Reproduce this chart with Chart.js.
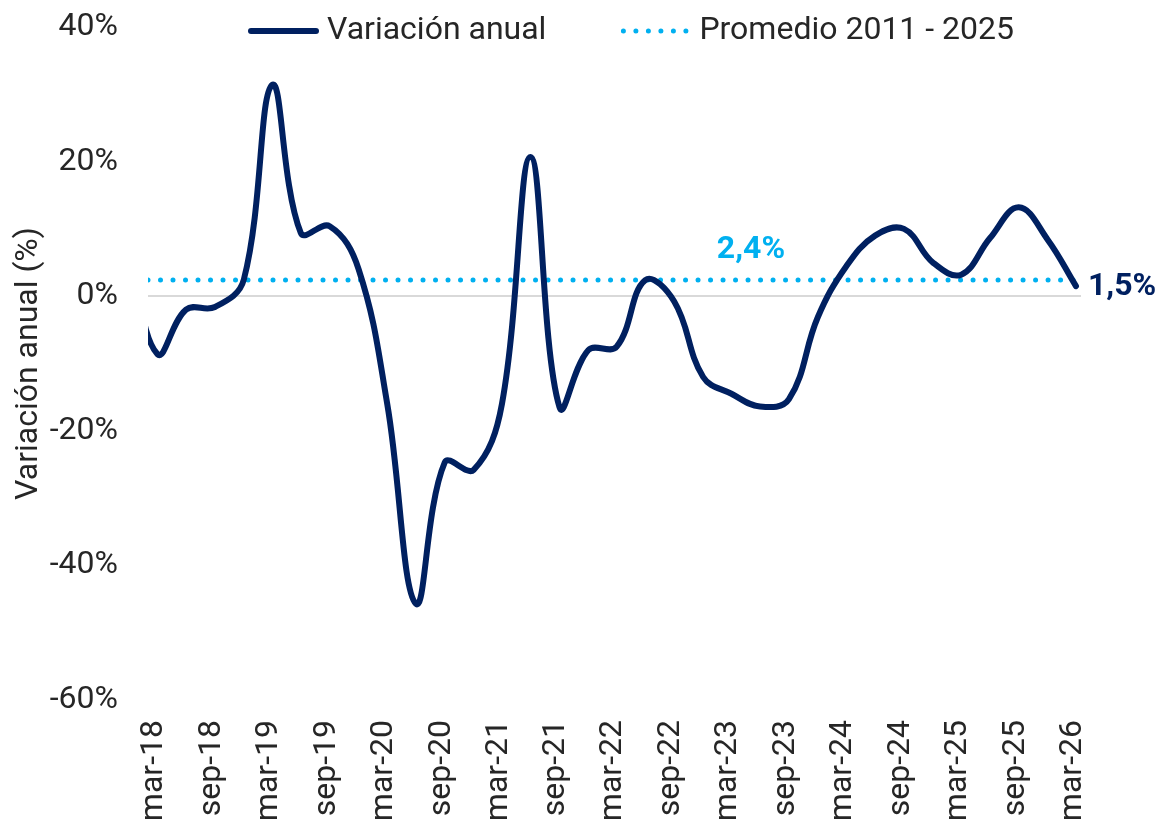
<!DOCTYPE html>
<html lang="es">
<head>
<meta charset="utf-8">
<title>Variación anual</title>
<script src="https://cdn.jsdelivr.net/npm/chart.js@4/dist/chart.umd.min.js"></script>
<style>
    html, body { margin: 0; padding: 0; background: #ffffff; }
    #wrap { width: 1158px; height: 820px; }
</style>
</head>
<body>
<div id="wrap"><canvas id="grafico" width="1158" height="820"></canvas></div>
<script>
// datos trimestrales (fin de trimestre); el primero queda fuera del eje
const fechas = [
    '2017-12-31', '2018-03-31', '2018-06-30', '2018-09-30', '2018-12-31',
    '2019-03-31', '2019-06-30', '2019-09-30', '2019-12-31',
    '2020-03-31', '2020-06-30', '2020-09-30', '2020-12-31',
    '2021-03-31', '2021-06-30', '2021-09-30', '2021-12-31',
    '2022-03-31', '2022-06-30', '2022-09-30', '2022-12-31',
    '2023-03-31', '2023-06-30', '2023-09-30', '2023-12-31',
    '2024-03-31', '2024-06-30', '2024-09-30', '2024-12-31',
    '2025-03-31', '2025-06-30', '2025-09-30', '2025-12-31',
    '2026-03-31'
];
const valores = [
    7.0, -8.6, -2.0, -1.6, 2.5,
    31.4, 9.4, 10.4, 4.0,
    -16.0, -45.7, -24.7, -25.8,
    -16.0, 20.7, -16.5, -8.0,
    -7.5, 2.4, -0.8, -12.0,
    -14.5, -16.4, -15.3, -3.1,
    4.5, 9.0, 10.0, 5.0,
    3.2, 8.6, 13.2, 8.4,
    1.5
];
const promedio = 2.4;
const etiquetas = [
    'mar-18', 'sep-18', 'mar-19', 'sep-19', 'mar-20', 'sep-20', 'mar-21', 'sep-21', 'mar-22',
    'sep-22', 'mar-23', 'sep-23', 'mar-24', 'sep-24', 'mar-25', 'sep-25', 'mar-26'
];
const ticksY = [-60, -40, -20, 0, 20, 40];

const mesNum = { mar: 2, sep: 8 };
function fechaEtiqueta(e) {
    const [m, a] = e.split('-');
    return Date.UTC(2000 + Number(a), mesNum[m], 20);
}
const fmt = v => v.toFixed(1).replace('.', ',') + '%';

const ultimo = valores.length - 1;
const xMin = Date.UTC(2018, 2, 1);
const xMax = Date.UTC(2026, 3, 16);

const textoColor = '#262626';
const azul = '#002060';
const celeste = '#00B0F0';

Chart.defaults.font.family = 'Roboto';
Chart.defaults.font.size = 32;
Chart.defaults.color = textoColor;

const leyenda = {
    id: 'leyenda',
    afterDraw(chart) {
        const ctx = chart.ctx;
        let xPos = 248;
        const yPos = 31;
        ctx.save();
        chart.data.datasets.forEach(ds => {
            ctx.strokeStyle = ds.borderColor;
            ctx.lineWidth = ds.borderWidth;
            ctx.lineCap = 'round';
            ctx.setLineDash(ds.borderDash || []);
            ctx.beginPath();
            ctx.moveTo(xPos + 3, yPos);
            ctx.lineTo(xPos + 68, yPos);
            ctx.stroke();
            ctx.setLineDash([]);
            ctx.font = '32px Roboto';
            ctx.fillStyle = textoColor;
            ctx.textAlign = 'left';
            ctx.textBaseline = 'middle';
            ctx.fillText(ds.label, xPos + 79, yPos);
            xPos += 79 + ctx.measureText(ds.label).width + 74;
        });
        ctx.restore();
    }
};

const rotulos = {
    id: 'rotulos',
    afterDatasetsDraw(chart) {
        const { ctx, scales: { x, y } } = chart;
        ctx.save();
        ctx.font = 'bold 32px Roboto';
        ctx.fillStyle = celeste;
        ctx.textAlign = 'center';
        ctx.textBaseline = 'alphabetic';
        ctx.fillText(fmt(promedio), x.getPixelForValue(Date.UTC(2023, 5, 1)), y.getPixelForValue(promedio) - 22);
        ctx.fillStyle = azul;
        ctx.textAlign = 'left';
        ctx.textBaseline = 'middle';
        ctx.fillText(fmt(valores[ultimo]),
            x.getPixelForValue(Date.parse(fechas[ultimo])) + 12,
            y.getPixelForValue(valores[ultimo]) + 1);
        ctx.restore();
    }
};

const grafico = new Chart(document.getElementById('grafico'), {
    type: 'line',
    data: {
        datasets: [
            {
                label: 'Variación anual',
                data: fechas.map((f, i) => ({ x: Date.parse(f), y: valores[i] })),
                borderColor: azul,
                borderWidth: 6,
                borderCapStyle: 'round',
                borderJoinStyle: 'round',
                tension: 0.4,
                pointRadius: 0,
                clip: { left: 0, top: 10, right: 10, bottom: 10 }
            },
            {
                label: 'Promedio 2011 - 2025',
                data: [
                    { x: xMin, y: promedio },
                    { x: Date.parse(fechas[ultimo]), y: promedio }
                ],
                borderColor: celeste,
                borderWidth: 5,
                borderDash: [0.001, 12.5],
                borderCapStyle: 'round',
                pointRadius: 0
            }
        ]
    },
    options: {
        responsive: false,
        animation: false,
        layout: { padding: { top: 27, right: 77, bottom: 0, left: 0 } },
        elements: { line: { capBezierPoints: false } },
        plugins: {
            legend: { display: false },
            tooltip: { enabled: false }
        },
        scales: {
            x: {
                type: 'linear',
                min: xMin,
                max: xMax,
                grid: { display: false },
                border: { display: false },
                afterBuildTicks: scale => {
                    scale.ticks = etiquetas.map(e => ({ value: fechaEtiqueta(e) }));
                },
                afterFit: scale => { scale.height = 120; },
                ticks: {
                    autoSkip: false,
                    minRotation: 90,
                    maxRotation: 90,
                    padding: 12,
                    color: textoColor,
                    callback: (value, index) => etiquetas[index]
                }
            },
            y: {
                min: -60,
                max: 40,
                afterBuildTicks: scale => {
                    scale.ticks = ticksY.map(v => ({ value: v }));
                },
                afterFit: scale => {
                    scale.width = 148;
                    scale.paddingTop = 0;
                    scale.paddingBottom = 0;
                },
                border: { display: false },
                grid: {
                    drawTicks: false,
                    lineWidth: 2,
                    color: c => (c.tick && c.tick.value === 0 ? '#d9d9d9' : 'rgba(0,0,0,0)')
                },
                ticks: {
                    padding: 30,
                    color: textoColor,
                    callback: v => v + '%'
                },
                title: {
                    display: true,
                    text: 'Variación anual (%)',
                    color: textoColor,
                    padding: { top: 10, bottom: 0 }
                }
            }
        }
    },
    plugins: [rotulos, leyenda]
});
</script>
</body>
</html>
